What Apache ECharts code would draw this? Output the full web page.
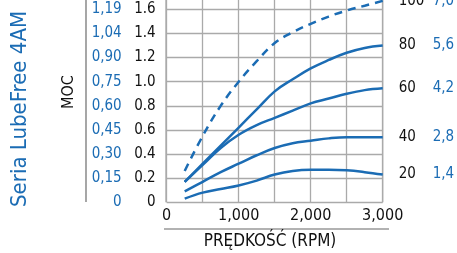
<!DOCTYPE html>
<html><head><meta charset="utf-8">
<script src="https://cdn.jsdelivr.net/npm/echarts@6/dist/echarts.min.js"></script>
<style>html,body{margin:0;padding:0;background:#fff}#c{width:457px;height:253px}</style>
</head><body><div id="c"></div>
<script>
var rpm = [250, 500, 750, 1000, 1250, 1500, 1750, 2000, 2250, 2500, 2750, 3000];
var s100 = [0.26, 0.55, 0.80, 1.00, 1.17, 1.32, 1.41, 1.48, 1.54, 1.59, 1.63, 1.67];
var s80  = [0.17, 0.32, 0.47, 0.62, 0.77, 0.92, 1.02, 1.11, 1.18, 1.24, 1.28, 1.30];
var s60  = [0.17, 0.31, 0.45, 0.56, 0.64, 0.70, 0.76, 0.82, 0.86, 0.90, 0.93, 0.945];
var s40  = [0.09, 0.17, 0.25, 0.32, 0.39, 0.45, 0.49, 0.51, 0.53, 0.54, 0.54, 0.54];
var s20  = [0.03, 0.08, 0.11, 0.14, 0.18, 0.23, 0.26, 0.27, 0.27, 0.265, 0.25, 0.23];
var pctLabels = ['100', '80', '60', '40', '20'];
var kwEndLabels = ['7,0', '5,6', '4,2', '2,8', '1,4'];
var hpTicks = ['0', '0.2', '0.4', '0.6', '0.8', '1.0', '1.2', '1.4', '1.6', '1.8'];
var kwTicks = ['0', '0,15', '0,30', '0,45', '0,60', '0,75', '0,90', '1,04', '1,19', '1,34'];
var xTicks = {0: '0', 1000: '1,000', 2000: '2,000', 3000: '3,000'};

var BLUE = '#1b6cb4';
var FONT = "'DejaVu Sans Condensed', 'Roboto', sans-serif";
var chart = echarts.init(document.getElementById('c'));
var allSeries = [s100, s80, s60, s40, s20];
function pairs(arr){ return rpm.map(function(r,i){ return [r, arr[i]]; }); }
var series = allSeries.map(function(arr, k){
  return {
    type: 'line', smooth: 0.4, symbol: 'none', data: pairs(arr),
    lineStyle: { color: BLUE, width: 2.5, type: k === 0 ? [8, 6] : 'solid' },
    endLabel: {
      show: true, distance: 16,
      formatter: function(){ return '{a|' + pctLabels[k] + '}{b|' + kwEndLabels[k] + '}'; },
      rich: {
        a: { color: '#111', fontFamily: FONT, fontSize: 15, width: 34, align: 'left' },
        b: { color: BLUE, fontFamily: FONT, fontSize: 15 }
      }
    }
  };
});
chart.setOption({
  animation: false,
  grid: { left: 166.7, right: 74.3, top: -14.8, bottom: 50.7, containLabel: false, outerBoundsMode: 'none' },
  xAxis: {
    type: 'value', min: 0, max: 3000, interval: 500,
    axisLine: { show: false }, axisTick: { show: false },
    splitLine: { show: true, lineStyle: { color: '#aaaaaa', width: 1.3 } },
    axisLabel: { color: '#111', fontFamily: FONT, fontSize: 16, margin: 6,
      formatter: function(v){ return xTicks[v] !== undefined ? xTicks[v] : ''; } }
  },
  yAxis: [{
    type: 'value', min: 0, max: 1.8, interval: 0.2,
    axisLine: { show: false }, axisTick: { show: false },
    splitLine: { show: true, lineStyle: { color: '#aaaaaa', width: 1.3 } },
    axisLabel: { color: '#111', fontFamily: FONT, fontSize: 15, margin: 11,
      formatter: function(v){ return hpTicks[Math.round(v / 0.2)]; } }
  }, {
    type: 'value', min: 0, max: 1.8, interval: 0.2, position: 'left',
    axisLine: { show: false }, axisTick: { show: false }, splitLine: { show: false },
    axisLabel: { color: BLUE, fontFamily: FONT, fontSize: 15, margin: 45,
      formatter: function(v){ return kwTicks[Math.round(v / 0.2)]; } }
  }],
  graphic: [
    { type: 'line', shape: { x1: 166, y1: 0, x2: 166, y2: 202.3 }, style: { stroke: '#aaaaaa', lineWidth: 1.3 }, z: 1 },
    { type: 'line', shape: { x1: 382.7, y1: 0, x2: 382.7, y2: 202.3 }, style: { stroke: '#aaaaaa', lineWidth: 1.3 }, z: 1 },
    { type: 'line', shape: { x1: 86, y1: 0, x2: 86, y2: 202 }, style: { stroke: '#777', lineWidth: 1.3 } },
    { type: 'line', shape: { x1: 164, y1: 229, x2: 389, y2: 229 }, style: { stroke: '#999', lineWidth: 1.3 } },
    { type: 'text', x: 270, y: 242, style: { text: 'PRĘDKOŚĆ (RPM)', fill: '#111', font: "17px " + FONT, textAlign: 'center', textVerticalAlign: 'middle' } },
    { type: 'text', x: 68.5, y: 92, rotation: Math.PI / 2, style: { text: 'MOC', fill: '#111', font: "16px " + FONT, textAlign: 'center', textVerticalAlign: 'middle' } },
    { type: 'text', x: 20, y: 109, rotation: Math.PI / 2, style: { text: 'Seria LubeFree 4AM', fill: BLUE, font: "22px " + FONT, textAlign: 'center', textVerticalAlign: 'middle' } }
  ],
  series: series
});
</script></body></html>
